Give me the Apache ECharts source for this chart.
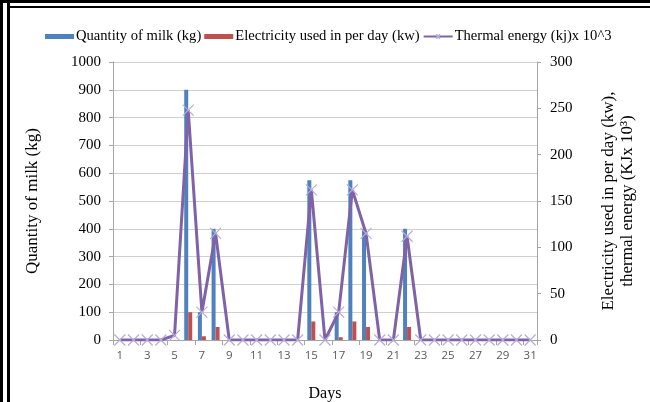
<!DOCTYPE html>
<html><head><meta charset="utf-8">
<script src="https://cdn.jsdelivr.net/npm/echarts@6/dist/echarts.min.js"></script>
<style>html,body{margin:0;padding:0;background:#fff}#c{width:650px;height:402px}</style>
</head><body><div id="c"></div>
<script>
var days = [];
for (var d = 1; d <= 31; d++) days.push(String(d));
var milk = [0,0,0,0,0,900,100,400,0,0,0,0,0,0,575,0,100,575,400,0,0,400,0,0,0,0,0,0,0,0,0];
var electricity = [0,0,0,0,0,30,4,14,0,0,0,0,0,0,20,0,3,20,14,0,0,14,0,0,0,0,0,0,0,0,0];
var thermal = [0,0,0,0,5,248,30,115,0,0,0,0,0,0,162,0,30,162,115,0,0,112,0,0,0,0,0,0,0,0,0];
var leftTicks = [0,1000,100];
var rightTicks = [0,300,50];

var serif = '"Liberation Serif", "DejaVu Serif", serif';
var chart = echarts.init(document.getElementById('c'), null, {renderer: 'canvas'});
chart.setOption({
  animation: false,
  backgroundColor: '#fff',
  grid: {left: 113, right: 113, top: 62, bottom: 62, containLabel: false, outerBoundsMode: 'none'},
  legend: {
    top: 24, left: 40,
    itemGap: 3,
    textStyle: {fontFamily: serif, fontSize: 14.6, color: '#000', padding: [0, 0, 0, -3]},
    data: [
      {name: 'Quantity of milk (kg)', icon: 'rect', itemStyle: {color: '#4F81BD'}},
      {name: 'Electricity used in per day (kw)', icon: 'rect', itemStyle: {color: '#C0504D'}},
      {name: 'Thermal energy (kj)x 10^3'}
    ],
    itemWidth: 29, itemHeight: 5
  },
  xAxis: {
    type: 'category', data: days,
    name: 'Days', nameLocation: 'middle', nameGap: 46,
    nameTextStyle: {fontFamily: serif, fontSize: 16, color: '#000'},
    axisLine: {lineStyle: {color: '#A6A6A6'}},
    axisTick: {show: true, alignWithLabel: false, lineStyle: {color: '#A6A6A6'}, length: 5},
    axisLabel: {interval: 1, color: '#595959', fontSize: 11.5, fontFamily: '"Open Sans", sans-serif', margin: 10}
  },
  yAxis: [
    {
      type: 'value', min: leftTicks[0], max: leftTicks[1], interval: leftTicks[2],
      name: 'Quantity of milk (kg)', nameLocation: 'middle', nameGap: 72, nameRotate: 90,
      nameTextStyle: {fontFamily: serif, fontSize: 17, color: '#000'},
      axisLine: {show: true, lineStyle: {color: '#A6A6A6'}},
      axisTick: {show: true, length: 4, lineStyle: {color: '#A6A6A6'}},
      axisLabel: {fontFamily: serif, fontSize: 15, color: '#000', margin: 12, formatter: function (v) { return String(v); }},
      splitLine: {lineStyle: {color: '#D0D0D0'}}
    },
    {
      type: 'value', min: rightTicks[0], max: rightTicks[1], interval: rightTicks[2],
      position: 'right',
      name: 'Electricity used in per day (kw),\nthermal energy (KJx 10³)', nameLocation: 'middle', nameGap: 62, nameRotate: 90,
      nameTextStyle: {fontFamily: serif, fontSize: 17, color: '#000', lineHeight: 19, align: 'center'},
      axisLine: {show: true, lineStyle: {color: '#A6A6A6'}},
      axisTick: {show: true, length: 4, lineStyle: {color: '#A6A6A6'}},
      axisLabel: {fontFamily: serif, fontSize: 15, color: '#000', margin: 13},
      splitLine: {show: false}
    }
  ],
  series: [
    {name: 'Quantity of milk (kg)', type: 'bar', yAxisIndex: 0, data: milk, barWidth: 4, barGap: '0%',
     itemStyle: {color: '#4F81BD'}},
    {name: 'Electricity used in per day (kw)', type: 'bar', yAxisIndex: 1, data: electricity, barWidth: 4, barGap: '0%',
     itemStyle: {color: '#C0504D'}},
    {name: 'Thermal energy (kj)x 10^3', type: 'line', yAxisIndex: 1, data: thermal,
     symbol: 'path://M0,0L10,10M10,0L0,10', symbolSize: 11, showAllSymbol: true,
     lineStyle: {color: '#7F62A8', width: 3},
     itemStyle: {color: 'transparent', borderColor: '#B9ACD8', borderWidth: 1.2},
     z: 5}
  ],
  graphic: [
    {type: 'rect', shape: {x: 0, y: 0, width: 3, height: 402}, style: {fill: '#000'}},
    {type: 'rect', shape: {x: 7, y: 0, width: 3, height: 402}, style: {fill: '#000'}},
    {type: 'rect', shape: {x: 0, y: 0, width: 650, height: 3}, style: {fill: '#000'}},
    {type: 'rect', shape: {x: 7, y: 6, width: 643, height: 2}, style: {fill: '#000'}}
  ]
});
</script></body></html>
